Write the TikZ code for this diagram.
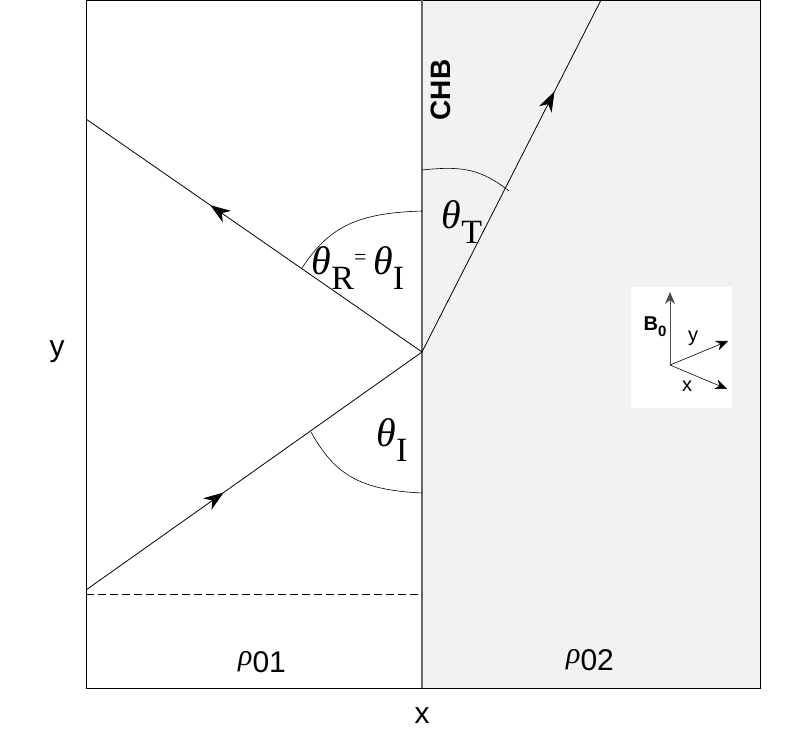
\documentclass[tikz,border=0pt]{standalone}
\usepackage{fontspec}
\setmainfont{Liberation Sans}
\newfontfamily\serif{Liberation Serif}
\usetikzlibrary{decorations.markings,arrows.meta}
\begin{document}
\begin{tikzpicture}[x=1pt,y=-1pt,
 ray/.style={draw=black,line width=0.8pt},
 midarrow/.style={postaction={decorate,decoration={markings,mark=at position #1 with {\arrow{Stealth[length=20pt,width=14pt,inset=6pt]}}}}},
 lab/.style={font=\fontsize{30}{30}\selectfont},
 th/.style={font=\serif\fontsize{40}{40}\selectfont\itshape}]
\useasboundingbox (0,0) rectangle (800,741);
\fill[gray!10] (422,0) rectangle (760,688);
\draw[black,line width=0.8pt] (86,0) rectangle (760,688);
\draw[gray!80!black,line width=1.6pt] (422,0) -- (422,688);
\coordinate (O) at (422,352);
\coordinate (A) at (86,590);
\coordinate (B) at (86,119);
\coordinate (C) at (601,0);
\draw[ray,midarrow=0.41] (A) -- (O);
\draw[ray,midarrow=0.63] (O) -- (B);
\draw[ray,midarrow=0.74] (O) -- (C);
\draw[dash pattern=on 8pt off 4pt,line width=0.8pt] (86,594) -- (422,594);
% angle arcs
\draw[line width=0.6pt] (422,211) .. controls (360,213) and (330,225) .. (302,268);
\draw[line width=0.6pt] (422,493) .. controls (360,490) and (335,475) .. (311,432);
\draw[line width=0.6pt] (422,170) .. controls (460,166) and (480,168) .. (509,191);
\node[th] (t1) at (392,440) {θ\raisebox{-15pt}{\upshape\fontsize{34}{34}\selectfont I}};
\node[th] (t2) at (358,268) {θ\raisebox{-15pt}{\upshape\fontsize{34}{34}\selectfont R}\raisebox{10pt}{\upshape\fontsize{22}{22}\selectfont =}\,θ\raisebox{-15pt}{\upshape\fontsize{34}{34}\selectfont I}};
\node[th] (t3) at (462,222) {θ\raisebox{-15pt}{\upshape\fontsize{34}{34}\selectfont T}};
\node[font=\bfseries\fontsize{28}{28}\selectfont,rotate=90] (chb) at (441,90) {CHB};
\node[lab] (r1) at (262,662) {\serif\itshape ρ\raisebox{-7pt}{\upshape\rmfamily 01}};
\node[lab] (r2) at (590,660) {\serif\itshape ρ\raisebox{-7pt}{\upshape\rmfamily 02}};
\node[lab] (xl) at (422,716) {x};
\node[lab] (yl) at (57,352) {y};
% inset
\fill[white] (631,287) rectangle (732,408);
\coordinate (P) at (670,365);
\draw[gray!60!black,line width=1pt,-{Stealth[length=12pt,width=10pt]}] (P) -- (670,292);
\draw[black,line width=0.6pt,-{Stealth[length=12pt,width=10pt]}] (P) -- (728,341);
\draw[black,line width=0.6pt,-{Stealth[length=12pt,width=10pt]}] (P) -- (727,389);
\node[font=\bfseries\fontsize{20}{20}\selectfont] (b0) at (655,327) {B\raisebox{-6pt}{\fontsize{15}{15}\selectfont 0}};
\node[font=\fontsize{20}{20}\selectfont] (yy) at (693,338) {y};
\node[font=\fontsize{20}{20}\selectfont] (xx) at (687,386) {x};
\end{tikzpicture}
\end{document}
